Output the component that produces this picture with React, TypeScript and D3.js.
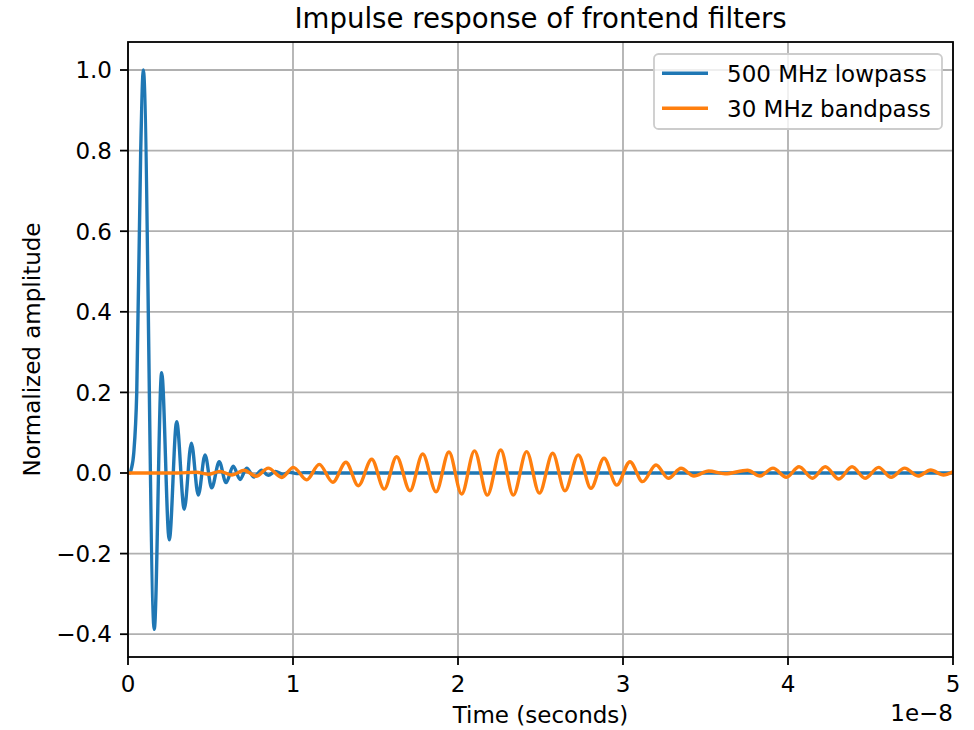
import React, { useEffect } from "react";
import * as d3 from "d3";

// Time in units of 1e-8 seconds
const lowpassTime = [0, 0.012, 0.02, 0.035, 0.053, 0.077, 0.093, 0.159, 0.204, 0.25, 0.295, 0.341, 0.384, 0.426, 0.467, 0.507, 0.553, 0.594, 0.638, 0.679, 0.719, 0.764, 0.81, 0.85, 0.894, 0.936, 0.98, 1.022, 1.064, 1.2, 5.0];
const lowpassValue = [0, 0, 0.01, 0.05, 0.2, 0.8, 1.0, -0.388, 0.249, -0.166, 0.127, -0.09, 0.074, -0.055, 0.045, -0.037, 0.028, -0.024, 0.017, -0.016, 0.012, -0.01, 0.007, -0.006, 0.004, -0.003, 0.002, -0.0015, 0.001, 0, 0];

const bandpassTime = [0, 0.3, 0.412, 0.485, 0.558, 0.63, 0.703, 0.776, 0.85, 0.932, 1.002, 1.083, 1.159, 1.241, 1.321, 1.396, 1.477, 1.553, 1.628, 1.709, 1.786, 1.867, 1.945, 2.022, 2.1, 2.178, 2.259, 2.335, 2.416, 2.493, 2.574, 2.648, 2.729, 2.806, 2.885, 2.962, 3.042, 3.119, 3.2, 3.275, 3.352, 3.43, 3.519, 3.618, 3.755, 3.83, 3.909, 3.99, 4.067, 4.148, 4.226, 4.308, 4.388, 4.467, 4.549, 4.625, 4.707, 4.788, 4.865, 4.942, 5.0];
const bandpassValue = [0, 0, 0.002, -0.003, 0.004, -0.005, 0.007, -0.008, 0.012, -0.011, 0.014, -0.017, 0.0215, -0.023, 0.0265, -0.0315, 0.034, -0.04, 0.0405, -0.044, 0.047, -0.0465, 0.052, -0.052, 0.055, -0.055, 0.057, -0.055, 0.053, -0.05, 0.049, -0.044, 0.045, -0.038, 0.0365, -0.03, 0.028, -0.0215, 0.02, -0.013, 0.0116, -0.0075, 0.005, -0.002, 0.007, -0.0075, 0.012, -0.0107, 0.0156, -0.013, 0.0156, -0.015, 0.0156, -0.013, 0.014, -0.0107, 0.012, -0.0075, 0.0075, -0.005, 0.003];

const xTicks = [0, 1, 2, 3, 4, 5];
const yTicks = [-0.4, -0.2, 0.0, 0.2, 0.4, 0.6, 0.8, 1.0];
const seriesNames = ["500 MHz lowpass", "30 MHz bandpass"];
const seriesColors = ["#1f77b4", "#ff7f0e"];
const titleText = "Impulse response of frontend filters";
const xLabel = "Time (seconds)";
const yLabel = "Normalized amplitude";
const offsetText = "1e\u22128";

const W = 974;
const H = 730;
const L = 128;
const R = 953;
const T = 42;
const B = 657;
const FONT = "DejaVu Sans, sans-serif";
const FS = 23;

export default function App() {
  useEffect(() => {
    document.body.style.margin = "0";
  }, []);

  const x = d3.scaleLinear().domain([0, 5]).range([L, R]);
  const y = d3.scaleLinear().domain([-0.4566, 1.0695]).range([B, T]);

  const line = d3
    .line<[number, number]>()
    .x((d) => x(d[0]))
    .y((d) => y(d[1]))
    .curve(d3.curveMonotoneX);

  const lowpass: [number, number][] = lowpassTime.map((t, i) => [t, lowpassValue[i]]);
  const bandpass: [number, number][] = bandpassTime.map((t, i) => [t, bandpassValue[i]]);

  const fmtY = (v: number) => (v < 0 ? "\u2212" : "") + Math.abs(v).toFixed(1);

  const legX = 654;
  const legY = 54;
  const legW = 288;
  const legH = 75;
  const rows = [73.3, 108.3];

  return (
    <svg width={W} height={H} style={{ display: "block", position: "absolute", left: 0, top: 0, background: "#fff" }} fontFamily={FONT}>
      <defs>
        <clipPath id="plot">
          <rect x={L} y={T} width={R - L} height={B - T} />
        </clipPath>
      </defs>
      <rect x={0} y={0} width={W} height={H} fill="#fff" />
      {/* grid */}
      <g stroke="#b0b0b0" strokeWidth={1.8}>
        {xTicks.map((t) => (
          <line key={"gx" + t} x1={x(t)} x2={x(t)} y1={T} y2={B} />
        ))}
        {yTicks.map((t) => (
          <line key={"gy" + t} x1={L} x2={R} y1={y(t)} y2={y(t)} />
        ))}
      </g>
      {/* series */}
      <g clipPath="url(#plot)" fill="none" strokeWidth={3.4} strokeLinejoin="round" strokeLinecap="square">
        <path d={line(lowpass) || ""} stroke={seriesColors[0]} />
        <path d={line(bandpass) || ""} stroke={seriesColors[1]} />
      </g>
      {/* spines */}
      <rect x={L} y={T} width={R - L} height={B - T} fill="none" stroke="#000" strokeWidth={1.8} />
      {/* x ticks */}
      <g>
        {xTicks.map((t) => (
          <g key={"xt" + t}>
            <line x1={x(t)} x2={x(t)} y1={B} y2={B + 8} stroke="#000" strokeWidth={1.8} />
            <text x={x(t)} y={692} textAnchor="middle" fontSize={FS} fill="#000">
              {String(t)}
            </text>
          </g>
        ))}
      </g>
      {/* y ticks */}
      <g>
        {yTicks.map((t) => (
          <g key={"yt" + t}>
            <line x1={L - 8} x2={L} y1={y(t)} y2={y(t)} stroke="#000" strokeWidth={1.8} />
            <text x={112} y={y(t) + 8.3} textAnchor="end" fontSize={FS} fill="#000">
              {fmtY(t)}
            </text>
          </g>
        ))}
      </g>
      {/* labels */}
      <text x={(L + R) / 2} y={723} textAnchor="middle" fontSize={FS} fill="#000">
        {xLabel}
      </text>
      <text x={R} y={721} textAnchor="end" fontSize={FS} fill="#000">
        {offsetText}
      </text>
      <text transform={`translate(40,${(T + B) / 2}) rotate(-90)`} textAnchor="middle" fontSize={FS} fill="#000">
        {yLabel}
      </text>
      <text x={(L + R) / 2} y={28} textAnchor="middle" fontSize={27.6} fill="#000">
        {titleText}
      </text>
      {/* legend */}
      <g>
        <rect x={legX} y={legY} width={legW} height={legH} rx={4.6} ry={4.6} fill="#fff" fillOpacity={0.8} stroke="#cccccc" strokeWidth={1.8} />
        {seriesNames.map((name, i) => (
          <g key={name}>
            <line x1={662} x2={708} y1={rows[i]} y2={rows[i]} stroke={seriesColors[i]} strokeWidth={3.4} />
            <text x={727} y={rows[i] + 8.3} fontSize={FS} fill="#000">
              {name}
            </text>
          </g>
        ))}
      </g>
    </svg>
  );
}
